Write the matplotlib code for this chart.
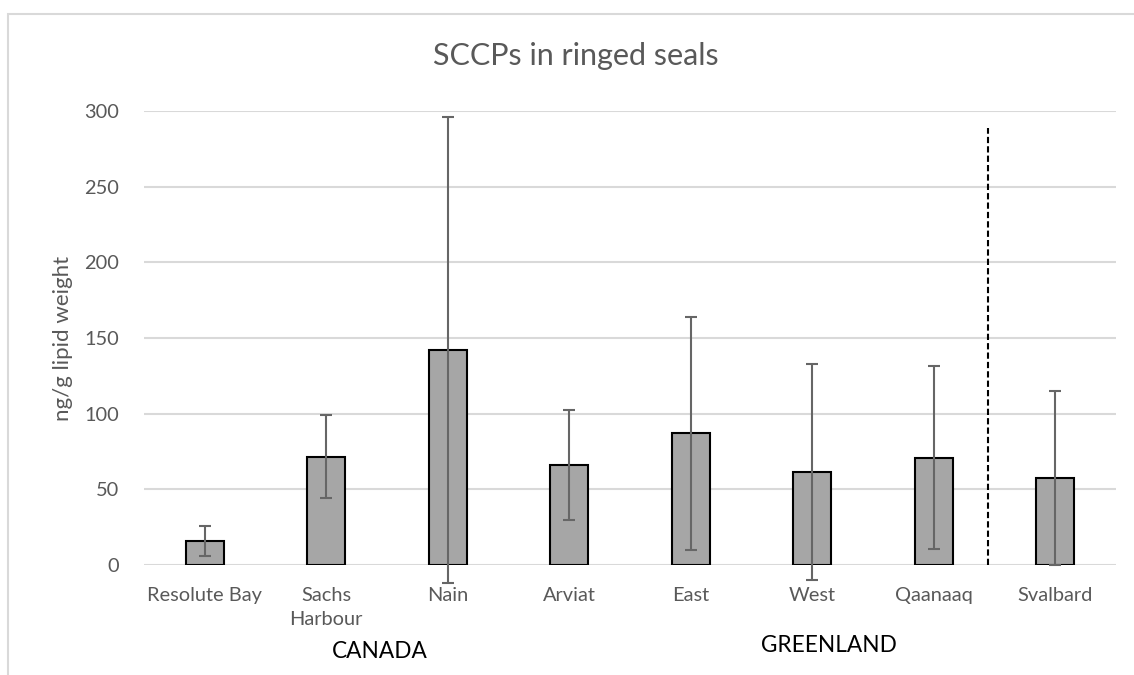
import numpy as np
import matplotlib.pyplot as plt
from matplotlib.patches import Rectangle

plt.rcParams['font.family'] = ['Lato', 'DejaVu Sans']

# SCCP concentrations (mean and standard deviation)
sites = ["Resolute Bay", "Sachs\nHarbour", "Nain", "Arviat",
         "East", "West", "Qaanaaq", "Svalbard"]
means = [16, 71.5, 142, 66, 87, 61.5, 71, 57.5]
errors = [10, 27.5, 154, 36.5, 77, 71.5, 60.5, 57.5]
yticks = [0, 50, 100, 150, 200, 250, 300]

W, H = 1134, 675
fig = plt.figure(figsize=(W / 100, H / 100), dpi=100)
ax = fig.add_axes([144 / W, 1 - 565 / H, (1116 - 144) / W, (565 - 111) / H])

# light chart frame
fig.add_artist(Rectangle((8 / W, -0.1), 1.2, 1 - 14 / H + 0.1,
                         transform=fig.transFigure, fill=False,
                         edgecolor='#d9d9d9', linewidth=1.5))

x = np.arange(len(sites))
ax.bar(x, means, width=0.31, color='#a6a6a6', edgecolor='black',
       linewidth=1.5, zorder=3)
ax.errorbar(x, means, yerr=errors, fmt='none', ecolor='#666666',
            elinewidth=1.5, capsize=4, capthick=1.5, zorder=4, clip_on=False)

ax.set_xlim(-0.5, len(sites) - 0.5)
ax.set_ylim(0, 300)
ax.set_yticks(yticks)
ax.set_xticks(x)
ax.set_xticklabels(sites, fontsize=14.4, color='#595959', linespacing=1.45)
ax.tick_params(axis='y', labelsize=14.4, labelcolor='#595959', length=0, pad=18)
ax.tick_params(axis='x', length=0, pad=16)
ax.grid(axis='y', color='#d9d9d9', linewidth=1.5, zorder=0)
for s in ax.spines.values():
    s.set_visible(False)

ax.set_ylabel("ng/g lipid weight", fontsize=16, color='#595959', labelpad=8)
fig.text(576 / W, 1 - 56 / H, "SCCPs in ringed seals", fontsize=22,
         color='#595959', ha='center', va='center')

# separator between Greenland and Svalbard
ax.plot([6.45, 6.45], [0, 289], color='black', linestyle=(0, (3, 1.5)),
        linewidth=1.5, zorder=5, clip_on=False)

# regional group labels
ax.annotate("CANADA", xy=(1.44, 1 - 652 / H), xycoords=('data', 'figure fraction'),
            fontsize=16.3, color='black', ha='center', va='center')
ax.annotate("GREENLAND", xy=(5.14, 1 - 645 / H), xycoords=('data', 'figure fraction'),
            fontsize=16.3, color='black', ha='center', va='center')

fig.savefig("out.png", dpi=100)
